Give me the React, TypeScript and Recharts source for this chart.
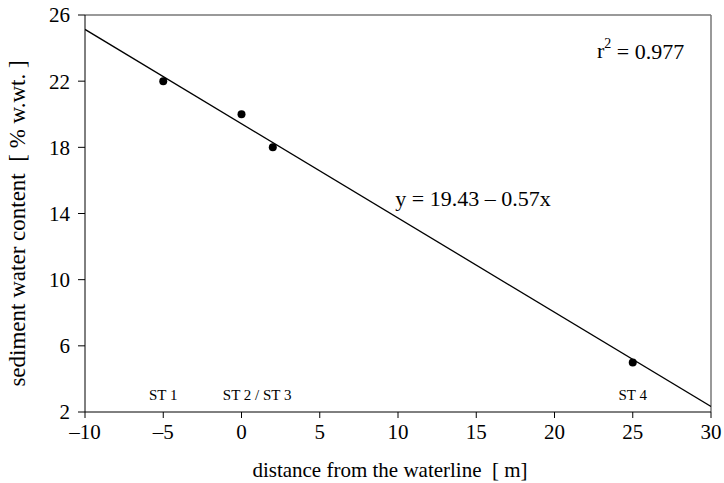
import React from 'react';
import {
  ComposedChart,
  Scatter,
  Line,
  XAxis,
  YAxis,
  ReferenceLine,
  ReferenceDot,
  Label,
} from 'recharts';

const distance = [-5, 0, 2, 25];
const waterContent = [22, 20, 18, 5];

const fitX = [-10, 30];
const fitY = [25.13, 2.33];

const xTicks = [-10, -5, 0, 5, 10, 15, 20, 25, 30];
const yTicks = [2, 6, 10, 14, 18, 22, 26];

const stationNames = ['ST 1', 'ST 2 / ST 3', 'ST 4'];
const stationX = [-5, 1, 25];

const points = distance.map((x, i) => ({ x, y: waterContent[i] }));
const fit = fitX.map((x, i) => ({ x, fy: fitY[i] }));

const FONT = 'Liberation Serif, Times New Roman, serif';
const NB = '\u00a0';

const dash = (v: number) => String(v).replace('-', '\u2013');

const App = () => {
  return (
    <div style={{ position: 'absolute', left: 0, top: 0, background: '#fff', fontFamily: FONT }}>
      <ComposedChart
        width={724}
        height={483}
        margin={{ top: 15, right: 13, bottom: 0, left: 0 }}
        style={{ fontFamily: FONT }}
      >
        <XAxis
          type="number"
          dataKey="x"
          domain={[-10, 30]}
          ticks={xTicks}
          allowDataOverflow
          tickFormatter={dash}
          height={71}
          tickSize={6}
          tickMargin={6}
          stroke="#000"
          tick={{ fill: '#000', fontSize: 21, fontFamily: FONT }}
        >
          <Label
            content={(props: any) => {
              const vb = props.viewBox;
              return (
                <text
                  x={vb.x + vb.width / 2 - 8}
                  y={477}
                  textAnchor="middle"
                  fill="#000"
                  fontSize={21}
                  fontFamily={FONT}
                >
                  {`distance from the waterline${NB}${NB}[${NB}m]`}
                </text>
              );
            }}
          />
        </XAxis>
        <YAxis
          type="number"
          domain={[2, 26]}
          ticks={yTicks}
          allowDataOverflow
          width={85}
          tickSize={7}
          tickMargin={8}
          stroke="#000"
          tick={{ fill: '#000', fontSize: 21, fontFamily: FONT }}
        >
          <Label
            content={(props: any) => {
              const vb = props.viewBox;
              const cx = 25;
              const cy = vb.y + vb.height / 2 + 10;
              return (
                <text
                  x={cx}
                  y={cy}
                  transform={`rotate(-90 ${cx} ${cy})`}
                  textAnchor="middle"
                  fill="#000"
                  fontSize={23}
                  fontFamily={FONT}
                >
                  {`sediment water content${NB}${NB}[${NB}%${NB}w.wt.${NB}]`}
                </text>
              );
            }}
          />
        </YAxis>
        <ReferenceLine y={26} stroke="#777" strokeWidth={1.5} />
        <ReferenceLine x={30} stroke="#777" strokeWidth={1.5} />
        <Line
          data={fit}
          dataKey="fy"
          stroke="#000"
          strokeWidth={1.3}
          dot={false}
          activeDot={false}
          isAnimationActive={false}
          legendType="none"
        />
        <Scatter
          data={points}
          dataKey="y"
          fill="#000"
          isAnimationActive={false}
          shape={(p: any) => <circle cx={p.cx} cy={p.cy} r={4} fill="#000" />}
        />
        {stationNames.map((name, i) => (
          <ReferenceDot
            key={name}
            x={stationX[i]}
            y={3.05}
            r={0}
            stroke="none"
            label={{ value: name, position: 'center', fill: '#000', fontSize: 15, fontFamily: FONT }}
          />
        ))}
        <ReferenceDot
          x={14.79}
          y={14.94}
          r={0}
          stroke="none"
          label={{ value: 'y = 19.43 \u2013 0.57x', position: 'center', fill: '#000', fontSize: 22, fontFamily: FONT }}
        />
        <ReferenceDot
          x={25.5}
          y={23.85}
          r={0}
          stroke="none"
          label={(props: any) => {
            const { viewBox } = props;
            const cx = viewBox.x + (viewBox.width || 0) / 2;
            const cy = viewBox.y + (viewBox.height || 0) / 2;
            return (
              <text
                x={cx}
                y={cy}
                textAnchor="middle"
                dominantBaseline="central"
                fill="#000"
                fontSize={22}
                fontFamily={FONT}
              >
                r<tspan dy={-8} fontSize={14}>2</tspan>
                <tspan dy={8}> = 0.977</tspan>
              </text>
            );
          }}
        />
      </ComposedChart>
    </div>
  );
};

export default App;
